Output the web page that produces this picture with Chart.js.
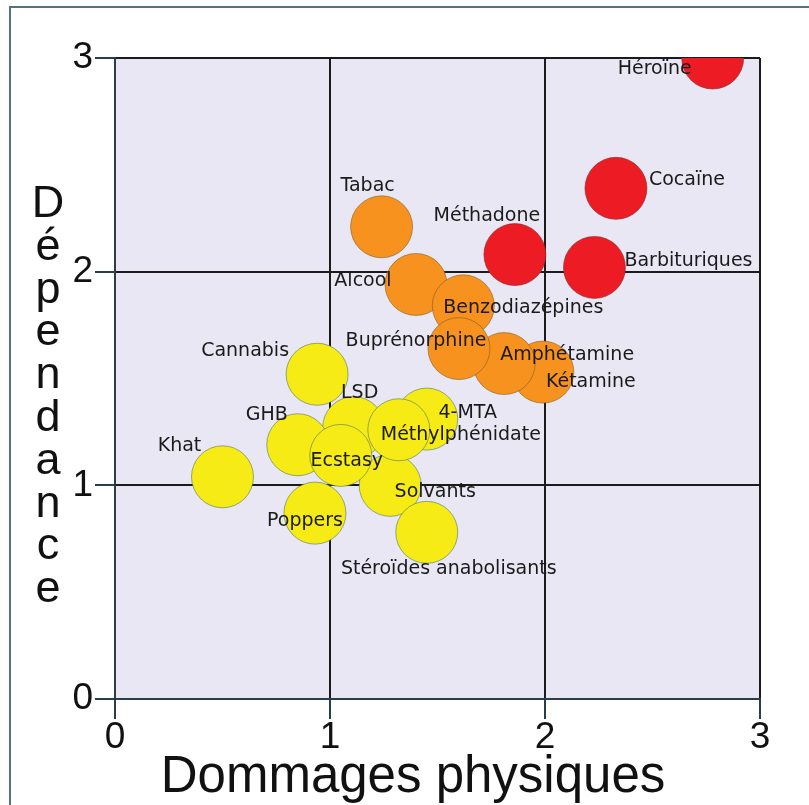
<!DOCTYPE html>
<html lang="fr">
<head>
<meta charset="utf-8">
<title>Dépendance et dommages physiques</title>
<script src="https://cdn.jsdelivr.net/npm/chart.js@4.4.1/dist/chart.umd.min.js"></script>
<style>
  html, body { margin: 0; padding: 0; background: #fff; }
  #wrap { position: relative; width: 809px; height: 805px; overflow: hidden; }
  #frame { position: absolute; left: 9px; top: 6px; right: -10px; bottom: -10px; border: 2px solid #56717f; pointer-events: none; }
</style>
</head>
<body>
<div id="wrap">
  <canvas id="chart" width="809" height="805"></canvas>
  <div id="frame"></div>
</div>
<script>
// drawing order matters: later points sit on top of earlier ones
const names = [
  'Héroïne', 'Cocaïne', 'Barbituriques', 'Méthadone',
  'Tabac', 'Alcool', 'Kétamine', 'Amphétamine', 'Benzodiazépines', 'Buprénorphine',
  'Khat', 'Cannabis', 'LSD', 'GHB', '4-MTA', 'Solvants', 'Méthylphénidate', 'Poppers', 'Ecstasy', 'Stéroïdes anabolisants',
];
const physical = [
  2.78, 2.33, 2.23, 1.86,
  1.24, 1.40, 1.99, 1.81, 1.62, 1.60,
  0.50, 0.94, 1.11, 0.85, 1.45, 1.28, 1.32, 0.93, 1.05, 1.45,
];
const dependence = [
  3.00, 2.39, 2.02, 2.08,
  2.21, 1.94, 1.53, 1.57, 1.84, 1.64,
  1.04, 1.52, 1.27, 1.19, 1.31, 1.00, 1.26, 0.87, 1.14, 0.78,
];
// 0 = rouge, 1 = orange, 2 = jaune
const groups = [
  0, 0, 0, 0,
  1, 1, 1, 1, 1, 1,
  2, 2, 2, 2, 2, 2, 2, 2, 2, 2,
];
const xTicks = [0, 1, 2, 3];
const yTicks = [0, 1, 2, 3];
const xTitle = 'Dommages physiques';
const yTitle = 'Dépendance';

// label placement relative to the bubble centre, in pixels
const labelOffset = [
  [-58, 11], [71, -8], [94, -6], [-28, -39],
  [-14, -41], [-53, -3], [48, 10], [63, -8], [60, 2], [-43, -8],
  [-43, -31], [-72, -23], [6, -35], [-31, -30], [41, -6], [45, 7], [62, 5], [-10, 8], [6, 6], [22, 37],
];

const FILL = ['#ed1c24', '#f6921d', '#f6eb14'];
const EDGE = ['rgba(120,40,40,0.55)', 'rgba(120,90,40,0.55)', 'rgba(70,110,100,0.55)'];
const PLOT_BG = '#e8e7f3';
const INK = '#1b1b1b';

const decor = {
  id: 'decor',
  beforeDraw(chart) {
    const { ctx, chartArea: a } = chart;
    ctx.save();
    ctx.fillStyle = PLOT_BG;
    ctx.fillRect(a.left, a.top, a.right - a.left, a.bottom - a.top);
    ctx.restore();
  },
  afterDatasetsDraw(chart) {
    const { ctx } = chart;
    const pts = chart.getDatasetMeta(0).data;
    ctx.save();
    ctx.font = '19px "DejaVu Sans"';
    ctx.fillStyle = '#1a1a1a';
    ctx.textAlign = 'center';
    ctx.textBaseline = 'middle';
    pts.forEach((p, i) => {
      const [dx, dy] = labelOffset[i];
      ctx.fillText(names[i], p.x + dx, p.y + dy);
    });
    ctx.restore();
  },
  afterDraw(chart) {
    const { ctx } = chart;
    ctx.save();
    ctx.fillStyle = '#111';
    ctx.textAlign = 'center';
    ctx.textBaseline = 'alphabetic';
    ctx.font = '51px "Liberation Sans"';
    ctx.fillText(xTitle, 413, 792);
    // vertical title, one upright letter per line
    ctx.font = '45px "Liberation Sans"';
    [...yTitle].forEach((ch, i) => ctx.fillText(ch, 48, 217 + i * 42.8));
    ctx.restore();
  },
};

const axis = (ticks, extra) => ({
  type: 'linear',
  min: 0,
  max: 3,
  afterBuildTicks: (s) => { s.ticks = ticks.map((v) => ({ value: v })); },
  grid: { color: INK, lineWidth: 2, tickLength: 20, tickColor: '#2b3d48', tickWidth: 2 },
  border: { color: '#2b3d48', width: 2 },
  ...extra,
});

new Chart(document.getElementById('chart'), {
  type: 'bubble',
  data: {
    datasets: [{
      data: physical.map((x, i) => ({ x, y: dependence[i] })),
      backgroundColor: groups.map((g) => FILL[g]),
      borderColor: groups.map((g) => EDGE[g]),
      borderWidth: 1,
      radius: 31,
      hoverRadius: 0,
      clip: 0,
    }],
  },
  options: {
    responsive: false,
    animation: false,
    events: [],
    layout: { padding: { top: 58, right: 49, left: 0, bottom: 0 } },
    plugins: { legend: { display: false }, tooltip: { enabled: false } },
    scales: {
      x: axis(xTicks, {
        afterFit: (s) => { s.height = 106; },
        ticks: { color: '#111', font: { family: 'Liberation Sans', size: 37 }, padding: -3 },
      }),
      y: axis(yTicks, {
        afterFit: (s) => { s.width = 115; },
        ticks: { color: '#111', font: { family: 'Liberation Sans', size: 37 }, padding: 2 },
      }),
    },
  },
  plugins: [decor],
});
</script>
</body>
</html>
